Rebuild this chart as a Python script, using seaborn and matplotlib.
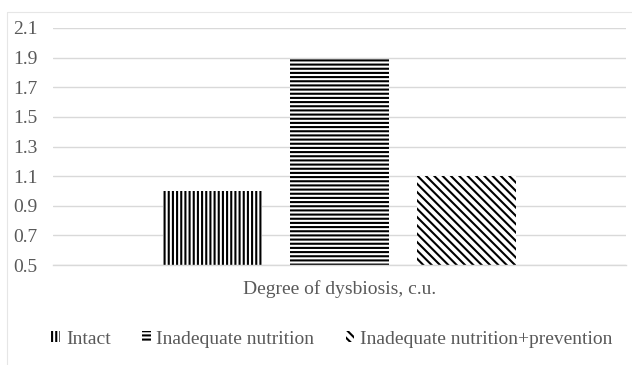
import matplotlib
matplotlib.use("Agg")
import matplotlib.pyplot as plt
import seaborn as sns
import pandas as pd
from matplotlib.lines import Line2D
from matplotlib.patches import Patch

categories = ["Degree of dysbiosis, c.u."]
groups = ["Intact", "Inadequate nutrition", "Inadequate nutrition+prevention"]
values = [1.0, 1.89, 1.1]
yticks = [0.5, 0.7, 0.9, 1.1, 1.3, 1.5, 1.7, 1.9, 2.1]
hatches = ["||||", "----", "\\\\\\\\"]

df = pd.DataFrame({"category": categories * len(groups), "group": groups, "value": values})

sns.set_theme(style="white")
plt.rcParams["font.family"] = ["Liberation Serif", "DejaVu Serif"]
plt.rcParams["hatch.linewidth"] = 1.5
plt.rcParams["hatch.color"] = "black"

fig = plt.figure(figsize=(6.32, 3.65), dpi=100)
ax = fig.add_axes([53 / 632, 1 - 265 / 365, (626 - 53) / 632, (265 - 28) / 365])

sns.barplot(data=df, x="category", y="value", hue="group", hue_order=groups,
            palette=["white"] * 3, width=0.665, gap=0.213, ax=ax, legend=False,
            linewidth=0, edgecolor="black")

for patch, h in zip(ax.patches, hatches):
    patch.set_hatch(h)
    patch.set_edgecolor("black")
    patch.set_linewidth(0)

ax.set_ylim(0.5, 2.1)
ax.set_xlim(-0.5, 0.5)
ax.set_yticks(yticks)
ax.set_yticklabels([f"{t:.1f}" for t in yticks], fontsize=14, color="#595959")
ax.tick_params(axis="x", labelsize=14, colors="#595959", length=0, pad=11)
ax.tick_params(axis="y", length=0, pad=28.8)
for lbl in ax.get_yticklabels():
    lbl.set_horizontalalignment("left")
ax.yaxis.grid(True, color="#d9d9d9", linewidth=1)
ax.set_axisbelow(True)
for s in ["top", "right", "left"]:
    ax.spines[s].set_visible(False)
ax.spines["bottom"].set_color("#d9d9d9")
ax.spines["bottom"].set_linewidth(1)
ax.set_xlabel("")
ax.set_ylabel("")

handles = [Patch(facecolor="white", edgecolor="black", linewidth=0, hatch=h) for h in hatches]
leg = fig.legend(handles, groups, loc="center", bbox_to_anchor=(332 / 632, 1 - 339 / 365),
                 ncol=3, frameon=False, fontsize=14, handlelength=0.45, handleheight=0.5,
                 handletextpad=0.3, columnspacing=1.6, borderpad=0)
for t in leg.get_texts():
    t.set_color("#595959")

# faint chart border
fig.add_artist(Line2D([7 / 632, 7 / 632], [0, 1 - 12 / 365], transform=fig.transFigure,
                      color="#e6e6e6", linewidth=0.8))
fig.add_artist(Line2D([7 / 632, 1], [1 - 12 / 365, 1 - 12 / 365], transform=fig.transFigure,
                      color="#e6e6e6", linewidth=0.8))

fig.savefig("out.png", dpi=100)
